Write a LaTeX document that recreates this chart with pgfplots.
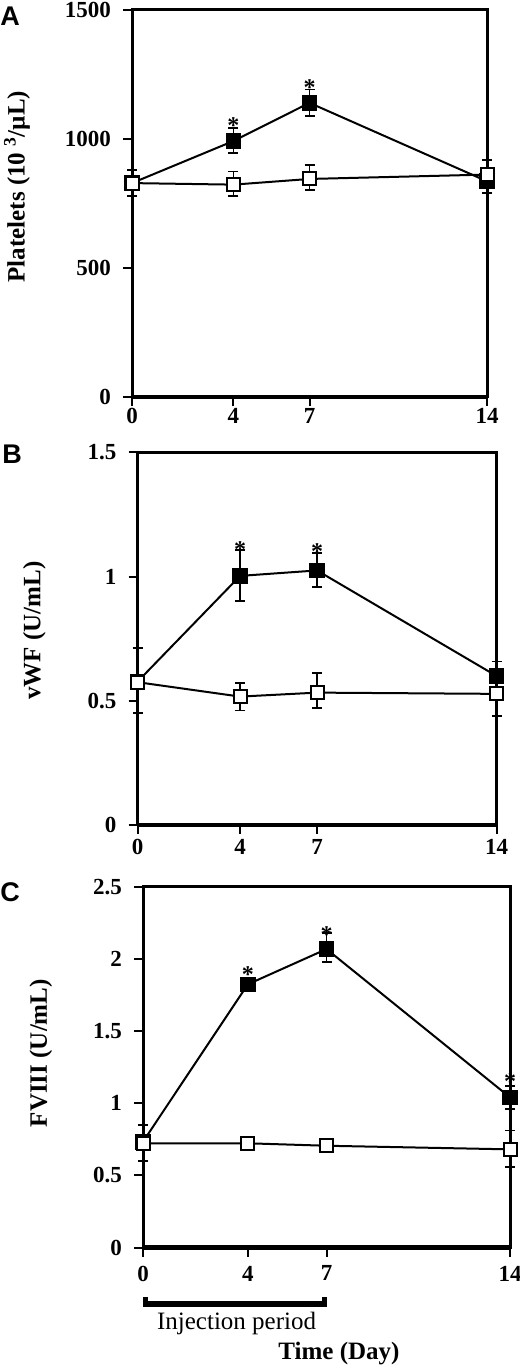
\documentclass[border=0pt]{standalone}
\usepackage{fontspec}
\setmainfont{Liberation Serif}
\newfontfamily\sansb{Liberation Sans}
\usepackage{pgfplots}
\pgfplotsset{compat=1.18}

\pgfplotsset{
  panel/.style={
    scale only axis, clip=false,
    xmin=0, xmax=14, xtick={0,4,7,14}, xticklabels={0,4,7,14},
    xtick pos=bottom, ytick pos=left, tick align=outside,
    major tick length=9bp,
    axis line style={line width=3bp},
    every tick/.style={line width=2bp, black},
    ticklabel style={font=\fontsize{23bp}{25bp}\selectfont\bfseries},
    yticklabel style={anchor=east, inner sep=0pt, xshift=-12bp},
    xticklabel style={anchor=north, inner sep=0pt},
    label style={font=\fontsize{25bp}{27bp}\selectfont\bfseries},
  },
  filled/.style={black, line width=2bp, mark=square*, mark size=7.3bp,
    mark options={solid, fill=black, line width=1bp},
    error bars/.cd, y dir=both, y explicit,
    error bar style={line width=1.8bp, solid},
    error mark options={rotate=90, line width=1.8bp, mark size=5bp}},
  open/.style={black, line width=2bp, mark=square*, mark size=6.5bp,
    mark options={solid, fill=white, line width=2bp},
    error bars/.cd, y dir=both, y explicit,
    error bar style={line width=1.8bp, solid},
    error mark options={rotate=90, line width=1.8bp, mark size=5bp}},
  stars/.style={draw=none, mark=none, nodes near coords={*},
    nodes near coords style={anchor=center, yshift=-5bp,
      font=\fontsize{24bp}{24bp}\selectfont\bfseries}},
}

\pgfplotstableread{
x y ep em
0 829 0 0
4 992 49 47
7 1140 52 50
14 836 44 45
}\Afilled
\pgfplotstableread{
x y ep em
0 829 52 51
4 823 51 45
7 845 55 44
14 862 57 52
}\Aopen
\pgfplotstableread{
x y ep em
0 0.577 0 0
4 1.003 0.105 0.10
7 1.025 0.07 0.068
14 0.600 0.058 0.05
}\Bfilled
\pgfplotstableread{
x y ep em
0 0.575 0.137 0.125
4 0.517 0.056 0.056
7 0.533 0.078 0.063
14 0.528 0.06 0.089
}\Bopen
\pgfplotstableread{
x y ep em
0 0.734 0 0
4 1.824 0.03 0.03
7 2.068 0.11 0.09
14 1.041 0.08 0.08
}\Cfilled
\pgfplotstableread{
x y ep em
0 0.723 0.127 0.12
4 0.723 0.02 0.02
7 0.706 0.02 0.02
14 0.681 0.13 0.12
}\Copen

\begin{document}
\begin{tikzpicture}[x=1bp,y=1bp]
\useasboundingbox (0,0) rectangle (520,1372);

% Panel letters
\node[font=\fontsize{27bp}{29bp}\selectfont\sansb\bfseries] at (10,1356) {A};
\node[font=\fontsize{27bp}{29bp}\selectfont\sansb\bfseries] at (12,918) {B};
\node[font=\fontsize{27bp}{29bp}\selectfont\sansb\bfseries] at (10,480) {C};

% Panel A
\begin{axis}[panel, at={(132bp,975bp)}, anchor=south west,
  width=355bp, height=387bp,
  ymin=0, ymax=1500, ytick={0,500,1000,1500}, yticklabels={0,500,1000,1500},
  xticklabel style={yshift=-2bp},
  ylabel={Platelets (10 \textsuperscript{3}/µL)},
  ylabel style={at={(axis description cs:-0.324,0.5436)}, anchor=center}]
  \addplot+[filled] table[x=x,y=y,y error plus=ep,y error minus=em] {\Afilled};
  \addplot+[open] table[x=x,y=y,y error plus=ep,y error minus=em] {\Aopen};
  \addplot[stars] coordinates {(4,1073) (7,1219)};
  \draw[line width=4.5bp] (rel axis cs:0,0) -- (rel axis cs:1,0);
\end{axis}

% Panel B
\begin{axis}[panel, at={(137.5bp,547bp)}, anchor=south west,
  width=359bp, height=372.5bp,
  ymin=0, ymax=1.5, ytick={0,0.5,1,1.5}, yticklabels={0,0.5,1,1.5},
  xticklabel style={yshift=-5bp},
  ylabel={vWF (U/mL)},
  ylabel style={at={(axis description cs:-0.287,0.5215)}, anchor=center}]
  \addplot+[filled] table[x=x,y=y,y error plus=ep,y error minus=em] {\Bfilled};
  \addplot+[open] table[x=x,y=y,y error plus=ep,y error minus=em] {\Bopen};
  \addplot[stars] coordinates {(4,1.13) (7,1.12)};
  \draw[line width=4.5bp] (rel axis cs:0,0) -- (rel axis cs:1,0);
\end{axis}

% Panel C
\begin{axis}[panel, at={(143bp,124.3bp)}, anchor=south west,
  width=367bp, height=361bp,
  ymin=0, ymax=2.5, ytick={0,0.5,1,1.5,2,2.5}, yticklabels={0,0.5,1,1.5,2,2.5},
  xticklabel style={yshift=-9bp},
  ylabel={FVIII (U/mL)},
  ylabel style={at={(axis description cs:-0.278,0.539)}, anchor=center},
  xlabel={Time (Day)},
  xlabel style={at={(axis description cs:0.534,-0.294)}, anchor=center}]
  \addplot+[filled] table[x=x,y=y,y error plus=ep,y error minus=em] {\Cfilled};
  \addplot+[open] table[x=x,y=y,y error plus=ep,y error minus=em] {\Copen};
  \addplot[stars] coordinates {(4,1.923) (7,2.205) (14,1.184)};
  \draw[line width=4.5bp] (rel axis cs:0,0) -- (rel axis cs:1,0);
  % injection period bracket
  \fill (axis cs:0,-0.367) rectangle (axis cs:7,-0.409);
  \fill (axis cs:0,-0.339) rectangle (axis cs:0.19,-0.413);
  \fill (axis cs:6.81,-0.339) rectangle (axis cs:7,-0.413);
  \node[font=\fontsize{25bp}{27bp}\selectfont, anchor=center]
    at (axis description cs:0.255,-0.2086) {Injection period};
\end{axis}
\end{tikzpicture}
\end{document}
